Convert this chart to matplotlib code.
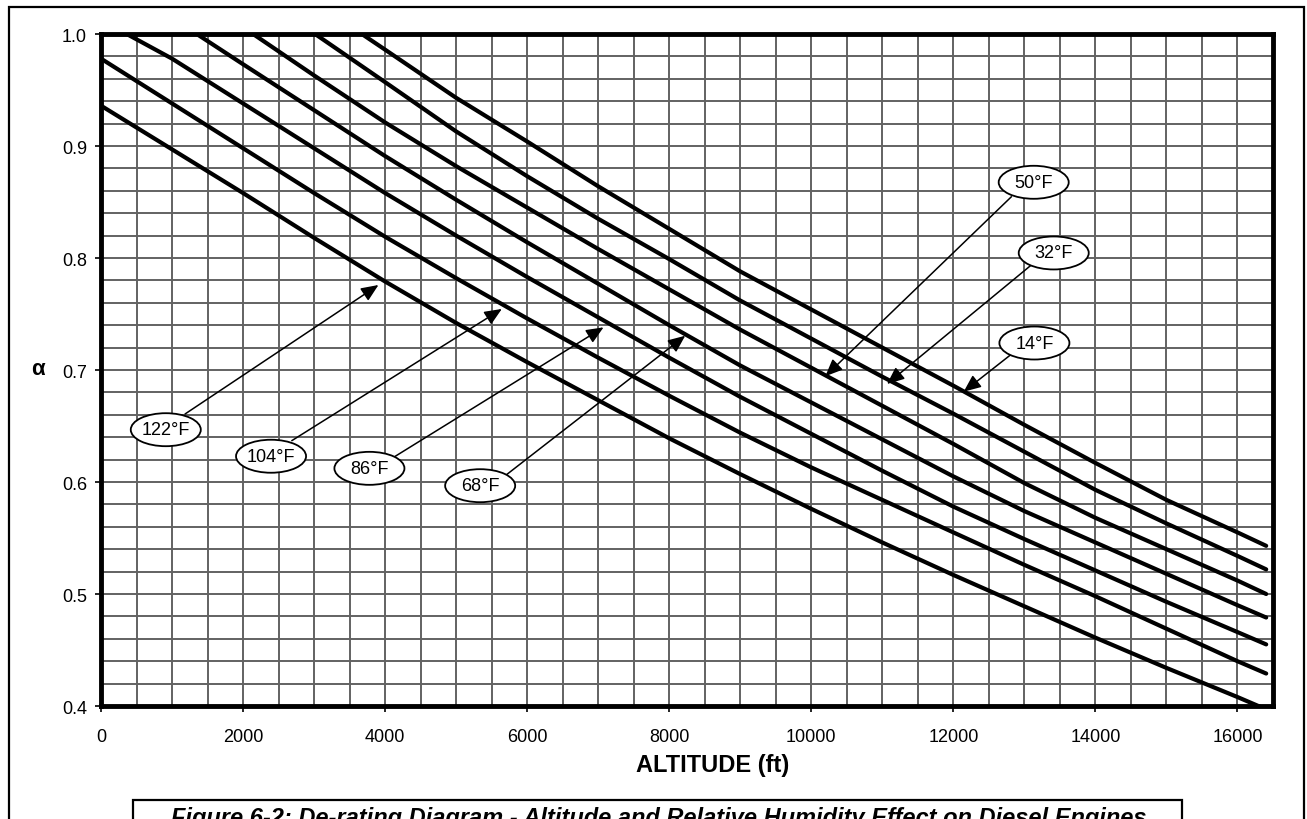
import matplotlib.pyplot as plt
from matplotlib.patches import Ellipse, Rectangle
import numpy as np

plt.rcParams['font.family'] = ['Liberation Sans', 'DejaVu Sans']

# --- data ---
alt_ft = [0, 1000, 2000, 3000, 4000, 5000, 6000, 7000, 8000,
          9000, 10000, 11000, 12000, 13000, 14000, 15000, 16000, 16404]

labels = ['14°F', '32°F', '50°F', '68°F', '86°F', '104°F', '122°F']

# altitude (ft) where each curve leaves alpha = 1.0 (None = starts below 1.0)
top_cross_ft = [3672, 3014, 2141, 1348, 362, None, None]

a_14f = [1.0, 1.0, 1.0, 1.0, 0.986, 0.943, 0.904, 0.864, 0.826,
         0.788, 0.754, 0.720, 0.686, 0.651, 0.617, 0.584, 0.555, 0.543]
a_32f = [1.0, 1.0, 1.0, 1.0, 0.957, 0.913, 0.873, 0.835, 0.799,
         0.762, 0.728, 0.694, 0.661, 0.627, 0.593, 0.563, 0.534, 0.522]
a_50f = [1.0, 1.0, 1.0, 0.963, 0.921, 0.882, 0.845, 0.808, 0.772,
         0.736, 0.702, 0.668, 0.634, 0.599, 0.568, 0.540, 0.512, 0.500]
a_68f = [1.0, 1.0, 0.973, 0.932, 0.891, 0.852, 0.814, 0.777, 0.740,
         0.704, 0.671, 0.638, 0.605, 0.574, 0.546, 0.518, 0.490, 0.479]
a_86f = [1.0, 0.978, 0.938, 0.898, 0.858, 0.820, 0.783, 0.747, 0.711,
         0.676, 0.643, 0.610, 0.578, 0.549, 0.521, 0.493, 0.466, 0.455]
a_104f = [0.978, 0.938, 0.898, 0.858, 0.819, 0.782, 0.746, 0.711, 0.677,
          0.644, 0.613, 0.584, 0.555, 0.526, 0.498, 0.469, 0.440, 0.429]
a_122f = [0.936, 0.897, 0.858, 0.818, 0.779, 0.742, 0.707, 0.673, 0.639,
          0.607, 0.576, 0.546, 0.517, 0.489, 0.461, 0.434, 0.408, 0.397]

series = [a_14f, a_32f, a_50f, a_68f, a_86f, a_104f, a_122f]

# label placement: (ellipse centre, arrow start, arrow tip) in data units
label_pos = [
    ((13141, 0.7241), (12803, 0.7134), (12145, 0.6806)),
    ((13413, 0.8045), (13085, 0.7931), (11066, 0.6875)),
    ((13131, 0.8676), (12817, 0.8547), (10197, 0.6944)),
    ((5338, 0.5967), (5690, 0.6056), (8225, 0.7306)),
    ((3779, 0.6122), (4141, 0.6229), (7075, 0.7381)),
    ((2394, 0.6230), (2686, 0.6369), (5643, 0.7545)),
    ((912, 0.6467), (1183, 0.6607), (3906, 0.7759)),
]

W, H = 1307, 820
fig = plt.figure(figsize=(W / 100, H / 100), dpi=100)
ax = fig.add_axes([101 / W, 1 - 707 / H, (1273 - 101) / W, (707 - 35) / H])

for cross, vals in zip(top_cross_ft, series):
    if cross is None:
        xs, ys = list(alt_ft), list(vals)
    else:
        xs = [0, cross] + [a for a in alt_ft if a > cross]
        ys = [1.0, 1.0] + [v for a, v in zip(alt_ft, vals) if a > cross]
    ax.plot(xs, ys, color='black', lw=3.0, solid_capstyle='round',
            solid_joinstyle='round', zorder=3)

ax.set_xlim(0, 16500)
ax.set_ylim(0.4, 1.0)
ax.set_xticks(np.arange(0, 16001, 2000))
ax.set_xticks(np.arange(0, 16501, 500), minor=True)
ax.set_yticks(np.arange(0.4, 1.001, 0.1))
ax.set_yticklabels(['%.1f' % v for v in np.arange(0.4, 1.001, 0.1)])
ax.set_yticks(np.arange(0.4, 1.001, 0.02), minor=True)
ax.grid(which='both', color='#626262', lw=1.4, zorder=1)
ax.set_axisbelow(True)
ax.tick_params(which='major', length=4, width=1.2, labelsize=13, pad=6)
ax.tick_params(axis='x', which='major', pad=12)
ax.tick_params(which='minor', length=0)
for s in ax.spines.values():
    s.set_linewidth(3.5)
    s.set_zorder(4)

fig.text(713 / W, 1 - 766 / H, 'ALTITUDE (ft)', fontsize=17,
         fontweight='bold', ha='center', va='center')
fig.text(38 / W, 1 - 370 / H, 'α', fontsize=16, fontweight='bold',
         ha='center', va='center')

# ellipse callouts
ell_w, ell_h = 70 / 0.071, 33 / 1120
for lab, (centre, start, tip) in zip(labels, label_pos):
    ax.annotate('', xy=tip, xytext=start,
                arrowprops=dict(arrowstyle='-|>,head_length=0.7,head_width=0.3',
                                color='black', lw=1.1, mutation_scale=15,
                                shrinkA=0, shrinkB=0),
                zorder=5)
    ax.add_patch(Ellipse(centre, ell_w, ell_h, facecolor='white',
                         edgecolor='black', lw=1.3, zorder=6))
    ax.text(centre[0], centre[1], lab, fontsize=13, ha='center',
            va='center', zorder=7)

# outer page frame and caption box
fig.patches.append(Rectangle((9 / W, -0.1), (1304 - 9) / W, 0.1 + 1 - 8 / H,
                             transform=fig.transFigure, fill=False,
                             lw=1.6, edgecolor='black'))
fig.patches.append(Rectangle((133 / W, -0.1), (1182 - 133) / W, 0.1 + 1 - 801 / H,
                             transform=fig.transFigure, fill=False,
                             lw=1.6, edgecolor='black'))
fig.text(659 / W, 1 - 807 / H,
         'Figure 6-2: De-rating Diagram - Altitude and Relative Humidity Effect on Diesel Engines',
         fontsize=17, fontweight='bold', fontstyle='italic', ha='center', va='top')

fig.savefig('out.png', dpi=100)
